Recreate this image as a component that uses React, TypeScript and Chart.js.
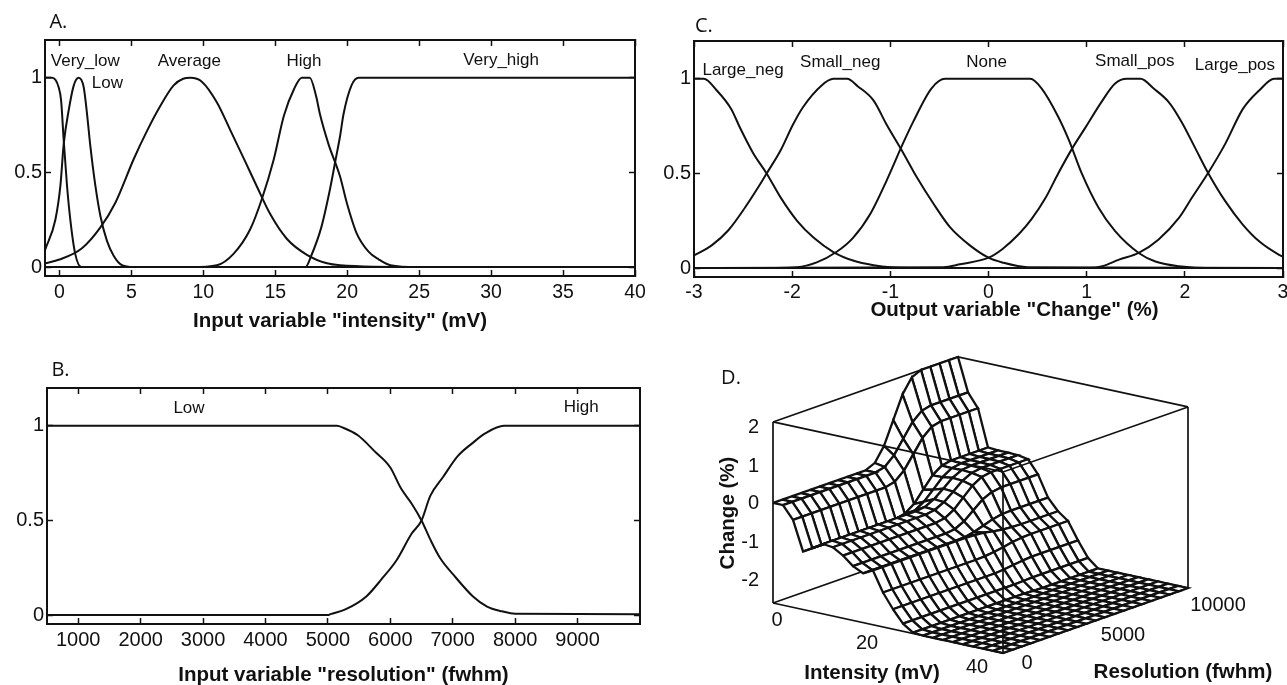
import { useEffect, useRef } from "react";
import { Chart, registerables } from "chart.js";

Chart.register(...registerables);

type Pt = [number, number];

const INK = "#111111";
const SANS = "'Liberation Sans', Arial, sans-serif";

/* ---------- Panel A: input variable "intensity" ---------- */
const intensityTicks = [0, 5, 10, 15, 20, 25, 30, 35, 40];
const membershipTicks = [0, 0.5, 1];
const aVeryLow: Pt[] = [[-1, 1], [-0.5, 1], [-0.05, 0.95], [0.12, 0.88], [0.3, 0.67], [0.53, 0.43], [0.76, 0.25], [1.1, 0.07], [1.53, 0], [40, 0]];
const aLow: Pt[] = [[-1, 0.09], [-0.28, 0.25], [0.07, 0.43], [0.3, 0.65], [0.65, 0.83], [1, 0.96], [1.34, 1], [1.69, 0.95], [1.92, 0.81], [2.15, 0.64], [2.5, 0.43], [2.85, 0.27], [3.3, 0.14], [3.77, 0.06], [4.35, 0.01], [5.16, 0], [40, 0]];
const aAverage: Pt[] = [[-1, 0.02], [0, 0.04], [1.57, 0.1], [2.85, 0.21], [3.89, 0.34], [5.16, 0.57], [6.09, 0.72], [7, 0.85], [7.94, 0.96], [8.6, 0.995], [9.1, 1], [9.9, 0.98], [10.95, 0.87], [11.9, 0.72], [12.9, 0.56], [13.7, 0.43], [14.65, 0.28], [15.8, 0.15], [17.2, 0.065], [18.6, 0.02], [19.5, 0.01], [25, 0], [40, 0]];
const aHigh: Pt[] = [[-1, 0], [9.2, 0], [10.95, 0.01], [12.1, 0.07], [13.26, 0.2], [14.07, 0.36], [14.9, 0.57], [15.6, 0.8], [16.3, 0.94], [16.85, 1], [17.4, 1], [17.85, 0.9], [18.1, 0.81], [18.7, 0.65], [19.5, 0.48], [19.97, 0.34], [20.65, 0.18], [21.5, 0.08], [22.2, 0.04], [23, 0.01], [24.9, 0], [40, 0]];
const aVeryHigh: Pt[] = [[-1, 0], [17.1, 0], [17.5, 0.06], [18.2, 0.21], [18.8, 0.41], [19.2, 0.57], [19.5, 0.69], [19.75, 0.81], [20.3, 0.96], [20.8, 1], [40, 1]];
const aLabels = ["Very_low", "Low", "Average", "High", "Very_high"];
const aLabelX = [1.8, 3.33, 9.03, 17, 30.7];
const aLabelY = [1.087, 0.971, 1.087, 1.087, 1.092];

/* ---------- Panel B: input variable "resolution" ---------- */
const resolutionTicks = [1000, 2000, 3000, 4000, 5000, 6000, 7000, 8000, 9000];
const bLow: Pt[] = [[500, 1], [5142, 1], [5245, 0.99], [5480, 0.95], [5750, 0.865], [6000, 0.78], [6170, 0.67], [6340, 0.59], [6500, 0.5], [6640, 0.4], [6800, 0.3], [7045, 0.2], [7320, 0.1], [7550, 0.045], [7790, 0.02], [8000, 0.007], [10000, 0.005]];
const bHigh: Pt[] = [[500, 0], [5000, 0], [5040, 0.005], [5280, 0.03], [5620, 0.1], [5860, 0.19], [6100, 0.29], [6340, 0.43], [6500, 0.5], [6640, 0.63], [6845, 0.73], [7080, 0.84], [7320, 0.91], [7520, 0.96], [7820, 1], [10000, 1]];
const bLabels = ["Low", "High"];
const bLabelX = [2775, 9058];
const bLabelY = [1.095, 1.1];

/* ---------- Panel C: output variable "Change" ---------- */
const changeTicks = [-3, -2, -1, 0, 1, 2, 3];
const cLargeNeg: Pt[] = [[-3, 1], [-2.9, 1], [-2.77, 0.94], [-2.62, 0.84], [-2.53, 0.74], [-2.4, 0.61], [-2.26, 0.5], [-2.12, 0.375], [-1.95, 0.25], [-1.78, 0.16], [-1.58, 0.085], [-1.38, 0.04], [-1.17, 0.015], [-1, 0.005], [-0.46, 0], [3, 0]];
const cSmallNeg: Pt[] = [[-3, 0.067], [-2.82, 0.12], [-2.65, 0.2], [-2.48, 0.32], [-2.33, 0.44], [-2.26, 0.5], [-2.12, 0.62], [-1.99, 0.76], [-1.89, 0.85], [-1.7, 0.965], [-1.58, 1], [-1.44, 1], [-1.33, 0.96], [-1.17, 0.885], [-1.04, 0.76], [-0.87, 0.61], [-0.73, 0.48], [-0.56, 0.34], [-0.39, 0.215], [-0.19, 0.12], [0, 0.055], [0.14, 0.03], [0.4, 0.005], [3, 0]];
const cNone: Pt[] = [[-3, 0], [-2.46, 0], [-1.95, 0.005], [-1.75, 0.03], [-1.55, 0.085], [-1.38, 0.16], [-1.2, 0.29], [-1.04, 0.46], [-0.87, 0.66], [-0.77, 0.77], [-0.58, 0.95], [-0.44, 1], [0.425, 1], [0.54, 0.95], [0.71, 0.8], [0.82, 0.675], [0.95, 0.5], [1.12, 0.32], [1.29, 0.195], [1.53, 0.08], [1.7, 0.035], [1.94, 0.01], [2.31, 0], [3, 0]];
const cSmallPos: Pt[] = [[-3, 0], [-0.46, 0.005], [-0.29, 0.02], [0, 0.055], [0.14, 0.1], [0.31, 0.18], [0.44, 0.26], [0.58, 0.37], [0.71, 0.5], [0.85, 0.63], [0.99, 0.745], [1.16, 0.885], [1.29, 0.975], [1.41, 1], [1.55, 1], [1.68, 0.95], [1.84, 0.875], [1.97, 0.77], [2.11, 0.63], [2.24, 0.5], [2.41, 0.355], [2.59, 0.23], [2.76, 0.14], [2.96, 0.07], [3, 0.06]];
const cLargePos: Pt[] = [[-3, 0], [1.02, 0], [1.16, 0.01], [1.33, 0.045], [1.53, 0.08], [1.73, 0.15], [1.94, 0.265], [2.07, 0.37], [2.24, 0.505], [2.41, 0.655], [2.59, 0.84], [2.76, 0.94], [2.91, 1], [3, 1]];
const cLabels = ["Large_neg", "Small_neg", "None", "Small_pos", "Large_pos"];
const cLabelX = [-2.5, -1.51, -0.02, 1.49, 2.51];
const cLabelY = [1.047, 1.09, 1.09, 1.095, 1.07];

/* ---------- Panel D: rule surface, one row per resolution step ---------- */
const surfaceIntensity = [0, 1.74, 3.48, 5.22, 6.96, 8.7, 10.43, 12.17, 13.91, 15.65, 17.39, 19.13, 20.87, 22.61, 24.35, 26.09, 27.83, 29.57, 31.3, 33.04, 34.78, 36.52, 38.26, 40];
const surfaceResolution = [0, 500, 1000, 1500, 2000, 2500, 3000, 3500, 4000, 4500, 5000, 5500, 6000, 6500, 7000, 7500, 8000, 8500, 9000, 9500, 10000];
const F = -2.62;
const rowLowRes = [0, 0, -0.33, -1.1, -0.95, -0.79, -0.82, -0.98, -1.2, -1.33, -1.2, -1.72, -2.1, -2.42, -2.6, F, F, F, F, F, F, F, F, F];
const row5500 = [0.11, 0.06, -0.27, -1.05, -0.91, -0.76, -0.78, -0.94, -1.17, -1.32, -1.21, -1.71, -2.1, -2.42, -2.6, F, F, F, F, F, F, F, F, F];
const row6000 = [0.47, 0.28, -0.06, -0.88, -0.76, -0.64, -0.66, -0.8, -1.05, -1.27, -1.23, -1.68, -2.08, -2.42, -2.6, F, F, F, F, F, F, F, F, F];
const row6500 = [1.06, 0.63, 0.28, -0.59, -0.53, -0.45, -0.47, -0.57, -0.85, -1.19, -1.28, -1.64, -2.05, -2.41, -2.61, F, F, F, F, F, F, F, F, F];
const row7000 = [1.65, 0.98, 0.62, -0.3, -0.29, -0.25, -0.27, -0.34, -0.65, -1.11, -1.32, -1.59, -2.02, -2.4, -2.62, F, F, F, F, F, F, F, F, F];
const row7500 = [2.01, 1.19, 0.83, -0.13, -0.14, -0.13, -0.15, -0.2, -0.54, -1.06, -1.34, -1.56, -2.0, -2.4, -2.62, F, F, F, F, F, F, F, F, F];
const rowHighRes = [2.12, 1.25, 0.89, -0.08, -0.1, -0.1, -0.11, -0.16, -0.5, -1.05, -1.35, -1.55, -2.0, -2.4, -2.62, F, F, F, F, F, F, F, F, F];
const surfaceRows = [
  rowLowRes, rowLowRes, rowLowRes, rowLowRes, rowLowRes, rowLowRes, rowLowRes, rowLowRes, rowLowRes, rowLowRes, rowLowRes,
  row5500, row6000, row6500, row7000, row7500,
  rowHighRes, rowHighRes, rowHighRes, rowHighRes, rowHighRes,
];
const zFloor = -2.62;
const zCeil = 2.12;
const dZTicks = ["2", "1", "0", "-1", "-2"];
const dIntensityTicks = ["0", "20", "40"];
const dResolutionTicks = ["0", "5000", "10000"];

/* ---------- Helpers ---------- */
type TextItem = { text: string; x: number; y: number; font: string; align?: CanvasTextAlign; rotate?: number };

const textPlugin = (items: TextItem[]) => ({
  id: "panelText",
  afterDraw(chart: any) {
    const { ctx, scales } = chart;
    ctx.save();
    ctx.fillStyle = INK;
    ctx.textBaseline = "middle";
    for (const it of items) {
      ctx.save();
      ctx.translate(scales.x.getPixelForValue(it.x), scales.y.getPixelForValue(it.y));
      if (it.rotate) ctx.rotate(it.rotate);
      ctx.font = it.font;
      ctx.textAlign = it.align ?? "center";
      ctx.fillText(it.text, 0, 0);
      ctx.restore();
    }
    ctx.restore();
  },
});

const fixedAxis = (size: number, horizontal: boolean) => (axis: any) => {
  if (horizontal) axis.height = size;
  else axis.width = size;
  axis.paddingLeft = axis.paddingRight = axis.paddingTop = axis.paddingBottom = 0;
};
const fixedTicks = (values: number[]) => (axis: any) => {
  axis.ticks = values.map((value) => ({ value }));
};

const TICK_LEN = -6;
const tickGrid = { drawOnChartArea: false, tickLength: TICK_LEN, tickColor: INK, tickWidth: 1.5 };
const axisBorder = { color: INK, width: 2 };

type LinePanel = {
  w: number; h: number;
  left: number; right: number; top: number; bottom: number;
  xMin: number; xMax: number; xTicks: number[];
  series: Pt[][];
  items: TextItem[];
  xFont: number; xPad: number;
  title?: string; titlePad?: number;
};

function linePanelConfig(p: LinePanel): any {
  const yMin = -0.047;
  const yMax = 1.2;
  return {
    type: "scatter",
    data: {
      datasets: p.series.map((s) => ({
        data: s.map(([x, y]) => ({ x, y })),
        showLine: true,
        borderColor: INK,
        borderWidth: 2,
        cubicInterpolationMode: "monotone",
        pointRadius: 0,
        fill: false,
        clip: false,
      })),
    },
    options: {
      animation: false,
      responsive: false,
      events: [],
      layout: { padding: { left: 0, top: p.top, right: p.w - p.right, bottom: 0 } },
      plugins: { legend: { display: false }, tooltip: { enabled: false } },
      scales: {
        x: {
          type: "linear", position: "bottom", min: p.xMin, max: p.xMax,
          grid: tickGrid, border: axisBorder,
          afterBuildTicks: fixedTicks(p.xTicks),
          afterFit: fixedAxis(p.h - p.bottom, true),
          ticks: {
            color: INK, padding: p.xPad, maxRotation: 0, autoSkip: false,
            font: { family: SANS, size: p.xFont },
            callback: (v: number) => String(v),
          },
          title: p.title
            ? {
                display: true, text: p.title, color: INK,
                font: { family: SANS, size: 20.5, weight: "bold", lineHeight: 1 },
                padding: { top: 0, bottom: p.titlePad ?? 0 },
              }
            : { display: false },
        },
        xTop: {
          type: "linear", position: "top", min: p.xMin, max: p.xMax,
          grid: tickGrid, border: axisBorder,
          afterBuildTicks: fixedTicks(p.xTicks),
          afterFit: fixedAxis(0, true),
          ticks: { display: false },
        },
        y: {
          type: "linear", position: "left", min: yMin, max: yMax,
          grid: tickGrid, border: axisBorder,
          afterBuildTicks: fixedTicks(membershipTicks),
          afterFit: fixedAxis(p.left, false),
          ticks: {
            color: INK, padding: 9,
            font: { family: SANS, size: 20 },
            callback: (v: number) => String(v),
          },
        },
        yRight: {
          type: "linear", position: "right", min: yMin, max: yMax,
          grid: tickGrid, border: axisBorder,
          afterBuildTicks: fixedTicks(membershipTicks),
          afterFit: fixedAxis(0, false),
          ticks: { display: false },
        },
      },
    },
    plugins: [textPlugin(p.items)],
  };
}

const inner = (labels: string[], xs: number[], ys: number[]): TextItem[] =>
  labels.map((text, i) => ({ text, x: xs[i], y: ys[i], font: `17px ${SANS}` }));
const LETTER = "20px 'Open Sans', sans-serif";
const BOLD = `bold 20.5px ${SANS}`;

/* Camera for panel D: view units equal the canvas frame below. */
const VIEW = { x0: 690, x1: 1287, y0: 340, y1: 685 };
const project = (i: number, r: number, z: number) => ({
  x: 773 + i * 5.75 + r * 0.0185,
  y: 603 + i * 1.25 - r * 0.0065 - (z - zFloor) * 38.2,
});

function surfaceConfig(): any {
  const edge = (pts: number[][]) => ({
    type: "scatter",
    data: pts.map(([i, r, z]) => project(i, r, z)),
    showLine: true, borderColor: INK, borderWidth: 1.7, pointRadius: 0, fill: false, clip: false,
  });
  const back = [
    edge([[0, 0, zFloor], [0, 10000, zFloor], [40, 10000, zFloor]]),
    edge([[0, 0, zCeil], [0, 10000, zCeil], [40, 10000, zCeil]]),
    edge([[0, 10000, zFloor], [0, 10000, zCeil]]),
  ];
  const quads: any[] = [];
  for (let rr = surfaceResolution.length - 2; rr >= 0; rr--) {
    for (let ii = 0; ii < surfaceIntensity.length - 1; ii++) {
      const c: number[][] = [
        [surfaceIntensity[ii], surfaceResolution[rr], surfaceRows[rr][ii]],
        [surfaceIntensity[ii + 1], surfaceResolution[rr], surfaceRows[rr][ii + 1]],
        [surfaceIntensity[ii + 1], surfaceResolution[rr + 1], surfaceRows[rr + 1][ii + 1]],
        [surfaceIntensity[ii], surfaceResolution[rr + 1], surfaceRows[rr + 1][ii]],
        [surfaceIntensity[ii], surfaceResolution[rr], surfaceRows[rr][ii]],
      ];
      quads.push({
        ...edge(c),
        fill: "shape",
        backgroundColor: "#ffffff",
        borderWidth: 2.3,
      });
    }
  }
  const front = [
    edge([[0, 0, zFloor], [40, 0, zFloor], [40, 10000, zFloor]]),
    edge([[0, 0, zCeil], [40, 0, zCeil], [40, 10000, zCeil]]),
    edge([[0, 0, zFloor], [0, 0, zCeil]]),
    edge([[40, 0, zFloor], [40, 0, zCeil]]),
    edge([[40, 10000, zFloor], [40, 10000, zCeil]]),
  ];
  const painted = [...back, ...quads, ...front];

  const tickFont = `20px ${SANS}`;
  const zTickY = [427, 466, 503, 542, 580];
  const iTickPos = [[777, 620], [867, 643], [977, 667]];
  const rTickPos = [[1027, 663], [1123, 635], [1218, 605]];
  const items: TextItem[] = [
    { text: "D.", x: 731, y: 378, font: LETTER },
    ...dZTicks.map((text, i) => ({ text, x: 759, y: zTickY[i], font: tickFont, align: "right" as CanvasTextAlign })),
    ...dIntensityTicks.map((text, i) => ({ text, x: iTickPos[i][0], y: iTickPos[i][1], font: tickFont })),
    ...dResolutionTicks.map((text, i) => ({ text, x: rTickPos[i][0], y: rTickPos[i][1], font: tickFont })),
    { text: "Change (%)", x: 728, y: 513, font: BOLD, rotate: -Math.PI / 2 },
    { text: "Intensity (mV)", x: 872, y: 673, font: BOLD },
    { text: "Resolution (fwhm)", x: 1183, y: 672, font: BOLD },
  ];

  return {
    type: "scatter",
    data: { datasets: painted.reverse() },
    options: {
      animation: false,
      responsive: false,
      events: [],
      layout: { padding: 0 },
      plugins: { legend: { display: false }, tooltip: { enabled: false } },
      scales: {
        x: { type: "linear", min: VIEW.x0, max: VIEW.x1, display: false },
        y: { type: "linear", min: VIEW.y0, max: VIEW.y1, reverse: true, display: false },
      },
    },
    plugins: [textPlugin(items)],
  };
}

const panelA: LinePanel = {
  w: 660, h: 340, left: 45, right: 635, top: 40, bottom: 276,
  xMin: -1, xMax: 40, xTicks: intensityTicks,
  series: [aVeryLow, aLow, aAverage, aHigh, aVeryHigh],
  xFont: 19.5, xPad: 11,
  title: 'Input variable "intensity" (mV)', titlePad: 8,
  items: [...inner(aLabels, aLabelX, aLabelY), { text: "A.", x: -0.07, y: 1.293, font: LETTER }],
};
const panelB: LinePanel = {
  w: 660, h: 345, left: 47, right: 640, top: 48, bottom: 284,
  xMin: 500, xMax: 10000, xTicks: resolutionTicks,
  series: [bLow, bHigh],
  xFont: 20, xPad: 10,
  title: 'Input variable "resolution" (fwhm)', titlePad: -1,
  items: [...inner(bLabels, bLabelX, bLabelY), { text: "B.", x: 716, y: 1.291, font: LETTER }],
};
const panelC: LinePanel = {
  w: 627, h: 340, left: 34, right: 623, top: 41, bottom: 277,
  xMin: -3, xMax: 3, xTicks: changeTicks,
  series: [cLargeNeg, cSmallNeg, cNone, cSmallPos, cLargePos],
  xFont: 19.5, xPad: 10,
  items: [
    ...inner(cLabels, cLabelX, cLabelY),
    { text: "C.", x: -2.9, y: 1.279, font: LETTER },
    { text: 'Output variable "Change" (%)', x: 0.265, y: -0.221, font: BOLD },
  ],
};

function ChartCanvas({ config, x, y, w, h }: { config: () => any; x: number; y: number; w: number; h: number }) {
  const ref = useRef<HTMLCanvasElement>(null);
  useEffect(() => {
    const chart = new Chart(ref.current as HTMLCanvasElement, config());
    return () => chart.destroy();
  }, [config]);
  return <canvas ref={ref} width={w} height={h} style={{ position: "absolute", left: x, top: y, width: w, height: h }} />;
}

const cfgA = () => linePanelConfig(panelA);
const cfgB = () => linePanelConfig(panelB);
const cfgC = () => linePanelConfig(panelC);

export default function App() {
  return (
    <div style={{ position: "absolute", left: 0, top: 0, width: 1287, height: 685, background: "#fff", overflow: "hidden" }}>
      <ChartCanvas config={cfgA} x={0} y={0} w={660} h={340} />
      <ChartCanvas config={cfgB} x={0} y={340} w={660} h={345} />
      <ChartCanvas config={cfgC} x={660} y={0} w={627} h={340} />
      <ChartCanvas config={surfaceConfig} x={VIEW.x0} y={VIEW.y0} w={VIEW.x1 - VIEW.x0} h={VIEW.y1 - VIEW.y0} />
    </div>
  );
}
